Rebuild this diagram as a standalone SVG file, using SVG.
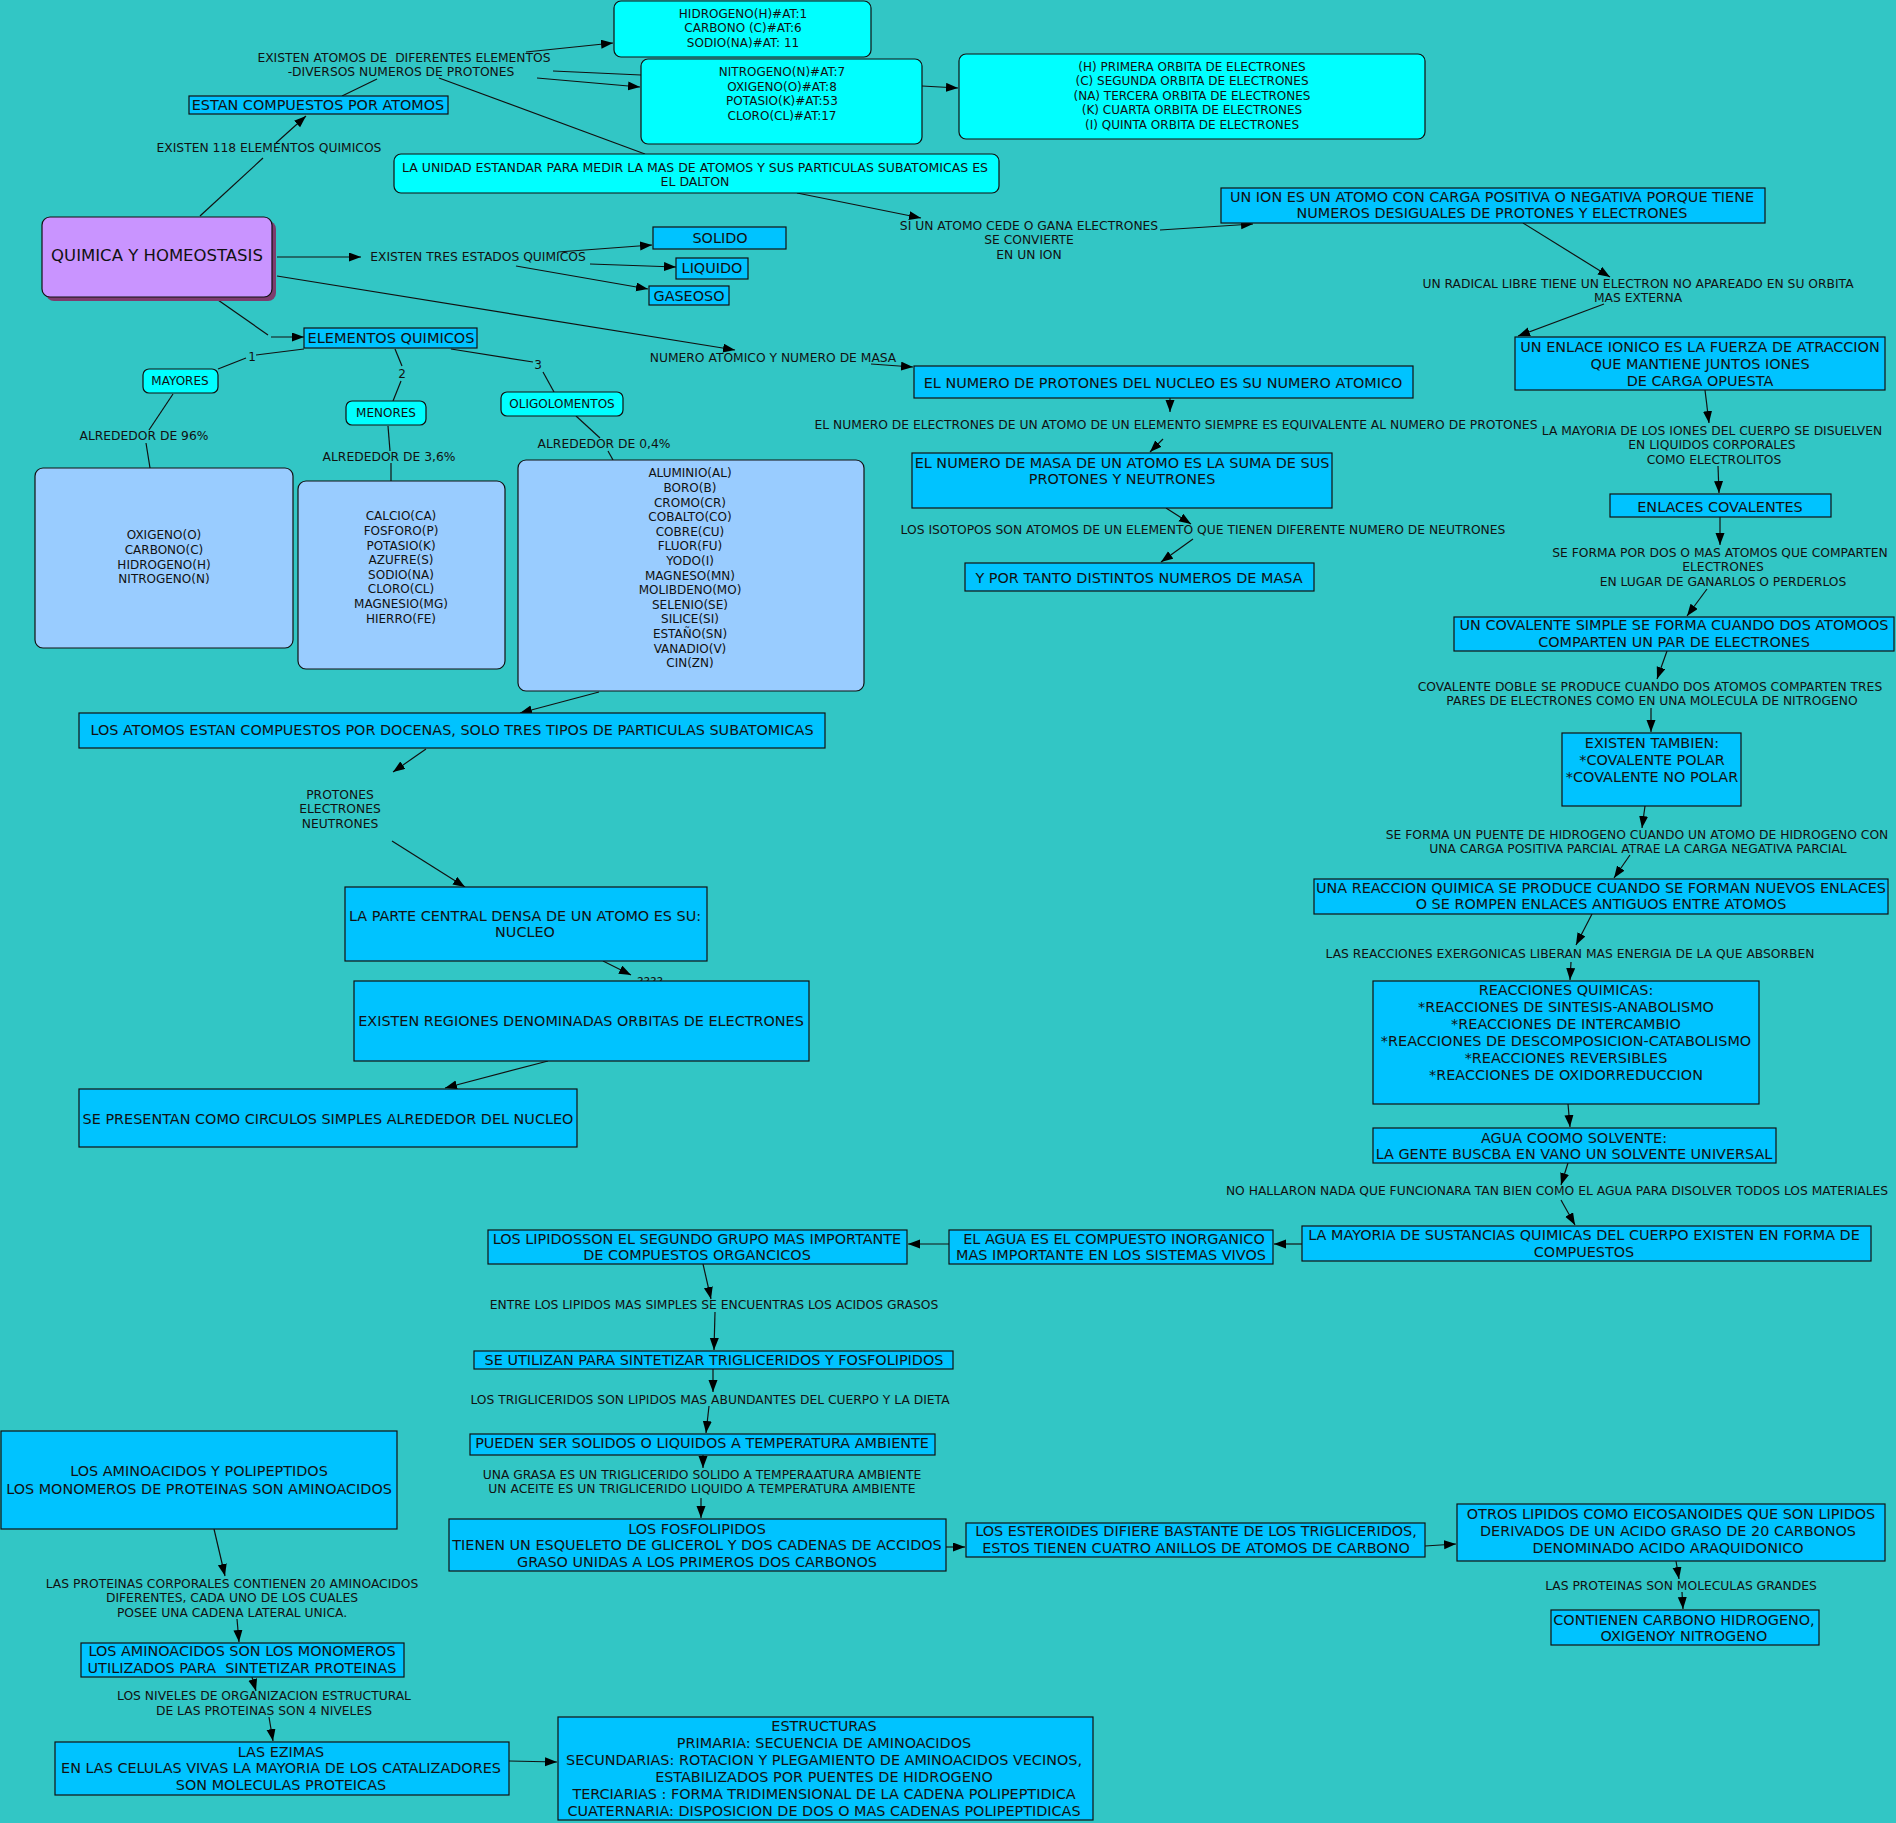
<svg xmlns="http://www.w3.org/2000/svg" width="1896" height="1823" viewBox="0 0 1896 1823">
<style>
text{font-family:"DejaVu Sans",Verdana,sans-serif;fill:#111;text-anchor:middle}
.t{font-size:14.4px}
.s{font-size:12px}
.k{font-size:12.3px}
.b{fill:#00C3FF;stroke:#111;stroke-width:1.2}
.c{fill:#00FFFF;stroke:#111;stroke-width:1.2}
.l{fill:#99CCFF;stroke:#111;stroke-width:1.2}
#edges line{stroke:#111;stroke-width:1.2}
#edges line.a{marker-end:url(#ah)}
</style>
<defs>
<marker id="ah" markerUnits="userSpaceOnUse" markerWidth="12" markerHeight="10" refX="12" refY="4.5" orient="auto"><path d="M0,0 L12,4.5 L0,9 z" fill="#000"/></marker>
</defs>
<rect x="0" y="0" width="1896" height="1823" fill="#32C6C5"/>

<g id="labels">
<text class="k" x="404" y="62" xml:space="preserve">EXISTEN ATOMOS DE  DIFERENTES ELEMENTOS</text>
<text class="k" x="401" y="76">-DIVERSOS NUMEROS DE PROTONES</text>
<text class="k" x="269" y="152">EXISTEN 118 ELEMENTOS QUIMICOS</text>
<text class="k" x="478" y="261">EXISTEN TRES ESTADOS QUIMICOS</text>
<text class="k" x="773" y="362">NUMERO ATOMICO Y NUMERO DE MASA</text>
<text class="k" x="1029" y="230">SI UN ATOMO CEDE O GANA ELECTRONES</text>
<text class="k" x="1029" y="244">SE CONVIERTE</text>
<text class="k" x="1029" y="259">EN UN ION</text>
<text class="k" x="1638" y="288">UN RADICAL LIBRE TIENE UN ELECTRON NO APAREADO EN SU ORBITA</text>
<text class="k" x="1638" y="302">MAS EXTERNA</text>
<text class="k" x="1176" y="429">EL NUMERO DE ELECTRONES DE UN ATOMO DE UN ELEMENTO SIEMPRE ES EQUIVALENTE AL NUMERO DE PROTONES</text>
<text class="k" x="1712" y="435">LA MAYORIA DE LOS IONES DEL CUERPO SE DISUELVEN</text>
<text class="k" x="1712" y="449">EN LIQUIDOS CORPORALES</text>
<text class="k" x="1714" y="464">COMO ELECTROLITOS</text>
<text class="k" x="1203" y="534">LOS ISOTOPOS SON ATOMOS DE UN ELEMENTO QUE TIENEN DIFERENTE NUMERO DE NEUTRONES</text>
<text class="k" x="1720" y="557">SE FORMA POR DOS O MAS ATOMOS QUE COMPARTEN</text>
<text class="k" x="1723" y="571">ELECTRONES</text>
<text class="k" x="1723" y="586">EN LUGAR DE GANARLOS O PERDERLOS</text>
<text class="k" x="1650" y="691">COVALENTE DOBLE SE PRODUCE CUANDO DOS ATOMOS COMPARTEN TRES</text>
<text class="k" x="1652" y="705">PARES DE ELECTRONES COMO EN UNA MOLECULA DE NITROGENO</text>
<text class="k" x="1637" y="839">SE FORMA UN PUENTE DE HIDROGENO CUANDO UN ATOMO DE HIDROGENO CON</text>
<text class="k" x="1638" y="853">UNA CARGA POSITIVA PARCIAL ATRAE LA CARGA NEGATIVA PARCIAL</text>
<text class="k" x="1570" y="958">LAS REACCIONES EXERGONICAS LIBERAN MAS ENERGIA DE LA QUE ABSORBEN</text>
<text class="k" x="1557" y="1195">NO HALLARON NADA QUE FUNCIONARA TAN BIEN COMO EL AGUA PARA DISOLVER TODOS LOS MATERIALES</text>
<text class="k" x="144" y="440">ALREDEDOR DE 96%</text>
<text class="k" x="389" y="461">ALREDEDOR DE 3,6%</text>
<text class="k" x="604" y="448">ALREDEDOR DE 0,4%</text>
<text class="s" x="252" y="361">1</text>
<text class="s" x="402" y="378">2</text>
<text class="s" x="538" y="369">3</text>
<text class="k" x="340" y="799">PROTONES</text>
<text class="k" x="340" y="813">ELECTRONES</text>
<text class="k" x="340" y="828">NEUTRONES</text>
<text class="k" x="650" y="986">????</text>
<text class="k" x="714" y="1309">ENTRE LOS LIPIDOS MAS SIMPLES SE ENCUENTRAS LOS ACIDOS GRASOS</text>
<text class="k" x="710" y="1404">LOS TRIGLICERIDOS SON LIPIDOS MAS ABUNDANTES DEL CUERPO Y LA DIETA</text>
<text class="k" x="702" y="1479">UNA GRASA ES UN TRIGLICERIDO SOLIDO A TEMPERAATURA AMBIENTE</text>
<text class="k" x="702" y="1493">UN ACEITE ES UN TRIGLICERIDO LIQUIDO A TEMPERATURA AMBIENTE</text>
<text class="k" x="1681" y="1590">LAS PROTEINAS SON MOLECULAS GRANDES</text>
<text class="k" x="232" y="1588">LAS PROTEINAS CORPORALES CONTIENEN 20 AMINOACIDOS</text>
<text class="k" x="232" y="1602">DIFERENTES, CADA UNO DE LOS CUALES</text>
<text class="k" x="232" y="1617">POSEE UNA CADENA LATERAL UNICA.</text>
<text class="k" x="264" y="1700">LOS NIVELES DE ORGANIZACION ESTRUCTURAL</text>
<text class="k" x="264" y="1715">DE LAS PROTEINAS SON 4 NIVELES</text>
</g>

<g id="edges">
<line x1="342" y1="96" x2="377" y2="79"/>
<line x1="200" y1="216" x2="263" y2="158"/>
<line class="a" x1="276" y1="143" x2="306" y2="116"/>
<line x1="218" y1="300" x2="268" y2="335"/>
<line class="a" x1="271" y1="337" x2="304" y2="337"/>
<line class="a" x1="277" y1="257" x2="361" y2="257"/>
<line class="a" x1="277" y1="276" x2="735" y2="350"/>
<line class="a" x1="526" y1="52" x2="613" y2="43"/>
<line x1="553" y1="71" x2="641" y2="75"/>
<line class="a" x1="537" y1="78" x2="640" y2="87"/>
<line x1="439" y1="78" x2="645" y2="154"/>
<line class="a" x1="922" y1="86" x2="958" y2="88"/>
<line class="a" x1="558" y1="252" x2="652" y2="245"/>
<line class="a" x1="590" y1="264" x2="676" y2="267"/>
<line class="a" x1="516" y1="266" x2="648" y2="289"/>
<line class="a" x1="871" y1="364" x2="913" y2="367"/>
<line class="a" x1="1170" y1="398" x2="1170" y2="412"/>
<line class="a" x1="1163" y1="439" x2="1150" y2="452"/>
<line class="a" x1="1166" y1="508" x2="1191" y2="524"/>
<line class="a" x1="1193" y1="539" x2="1161" y2="562"/>
<line class="a" x1="797" y1="193" x2="921" y2="218"/>
<line class="a" x1="1160" y1="230" x2="1253" y2="224"/>
<line class="a" x1="1523" y1="223" x2="1610" y2="277"/>
<line class="a" x1="1604" y1="304" x2="1518" y2="336"/>
<line class="a" x1="1705" y1="390" x2="1709" y2="423"/>
<line class="a" x1="1718" y1="466" x2="1719" y2="493"/>
<line class="a" x1="1720" y1="517" x2="1720" y2="545"/>
<line class="a" x1="1707" y1="589" x2="1687" y2="616"/>
<line class="a" x1="1667" y1="651" x2="1657" y2="679"/>
<line class="a" x1="1651" y1="708" x2="1651" y2="732"/>
<line class="a" x1="1645" y1="806" x2="1642" y2="828"/>
<line class="a" x1="1630" y1="855" x2="1614" y2="878"/>
<line class="a" x1="1592" y1="914" x2="1576" y2="945"/>
<line class="a" x1="1571" y1="962" x2="1570" y2="980"/>
<line class="a" x1="1568" y1="1104" x2="1570" y2="1127"/>
<line class="a" x1="1568" y1="1163" x2="1561" y2="1185"/>
<line class="a" x1="1561" y1="1200" x2="1575" y2="1225"/>
<line class="a" x1="1302" y1="1244" x2="1274" y2="1244"/>
<line class="a" x1="949" y1="1244" x2="908" y2="1244"/>
<line class="a" x1="703" y1="1264" x2="711" y2="1299"/>
<line class="a" x1="715" y1="1312" x2="714" y2="1350"/>
<line class="a" x1="713" y1="1369" x2="713" y2="1392"/>
<line class="a" x1="709" y1="1406" x2="706" y2="1433"/>
<line class="a" x1="703" y1="1455" x2="703" y2="1468"/>
<line class="a" x1="701" y1="1498" x2="701" y2="1518"/>
<line class="a" x1="946" y1="1547" x2="965" y2="1547"/>
<line class="a" x1="1425" y1="1546" x2="1456" y2="1544"/>
<line class="a" x1="1676" y1="1561" x2="1679" y2="1579"/>
<line class="a" x1="1682" y1="1592" x2="1683" y2="1609"/>
<line class="a" x1="214" y1="1529" x2="225" y2="1576"/>
<line class="a" x1="237" y1="1619" x2="239" y2="1642"/>
<line class="a" x1="252" y1="1677" x2="256" y2="1691"/>
<line class="a" x1="269" y1="1717" x2="273" y2="1741"/>
<line class="a" x1="509" y1="1761" x2="557" y2="1762"/>
<line class="a" x1="599" y1="692" x2="520" y2="713"/>
<line class="a" x1="426" y1="749" x2="393" y2="772"/>
<line class="a" x1="392" y1="841" x2="465" y2="887"/>
<line class="a" x1="603" y1="961" x2="631" y2="975"/>
<line class="a" x1="548" y1="1061" x2="445" y2="1088"/>
<line x1="304" y1="349" x2="256" y2="355"/>
<line x1="246" y1="358" x2="218" y2="369"/>
<line x1="395" y1="349" x2="402" y2="366"/>
<line x1="401" y1="381" x2="393" y2="401"/>
<line x1="451" y1="349" x2="533" y2="362"/>
<line x1="543" y1="372" x2="554" y2="392"/>
<line x1="173" y1="394" x2="149" y2="430"/>
<line x1="146" y1="443" x2="150" y2="468"/>
<line x1="388" y1="426" x2="390" y2="451"/>
<line x1="391" y1="463" x2="391" y2="481"/>
<line x1="576" y1="416" x2="600" y2="438"/>
<line x1="608" y1="451" x2="613" y2="460"/>
</g>

<g id="n-quimica"><rect x="46" y="221" width="230" height="80" rx="8" fill="#7D3C6E"/><rect x="42" y="217" width="230" height="80" rx="8" fill="#C994FF" stroke="#111" stroke-width="1.2"/><text x="157" y="261" font-size="16.5">QUIMICA Y HOMEOSTASIS</text></g>
<g id="n-estan"><rect class="b" x="189" y="96" width="259" height="18"/><text class="t" x="318" y="110">ESTAN COMPUESTOS POR ATOMOS</text></g>
<g id="n-hidrogeno"><rect class="c" x="614" y="1" width="257" height="56" rx="7"/><text class="s" x="743"><tspan x="743" y="18.3">HIDROGENO(H)#AT:1</tspan><tspan x="743" y="32.3">CARBONO (C)#AT:6</tspan><tspan x="743" y="47.3">SODIO(NA)#AT: 11</tspan></text></g>
<g id="n-nitrogeno"><rect class="c" x="641" y="59" width="281" height="85" rx="7"/><text class="s"><tspan x="782" y="76.3">NITROGENO(N)#AT:7</tspan><tspan x="782" y="91">OXIGENO(O)#AT:8</tspan><tspan x="782" y="105.3">POTASIO(K)#AT:53</tspan><tspan x="782" y="120.3">CLORO(CL)#AT:17</tspan></text></g>
<g id="n-orbitas"><rect class="c" x="959" y="54" width="466" height="85" rx="7"/><text class="s"><tspan x="1192" y="71.3">(H) PRIMERA ORBITA DE ELECTRONES</tspan><tspan x="1192" y="85.3">(C) SEGUNDA ORBITA DE ELECTRONES</tspan><tspan x="1192" y="100.3">(NA) TERCERA ORBITA DE ELECTRONES</tspan><tspan x="1192" y="114.3">(K) CUARTA ORBITA DE ELECTRONES</tspan><tspan x="1192" y="129.3">(I) QUINTA ORBITA DE ELECTRONES</tspan></text></g>
<g id="n-unidad"><rect class="c" x="394" y="154" width="605" height="39" rx="7"/><text font-size="12.5"><tspan x="695" y="171.5">LA UNIDAD ESTANDAR PARA MEDIR LA MAS DE ATOMOS Y SUS PARTICULAS SUBATOMICAS ES</tspan><tspan x="695" y="185.5">EL DALTON</tspan></text></g>
<g id="n-solido"><rect class="b" x="653" y="227" width="133" height="22"/><text class="t" x="720" y="243">SOLIDO</text></g>
<g id="n-liquido"><rect class="b" x="676" y="258" width="72" height="21"/><text class="t" x="712" y="273">LIQUIDO</text></g>
<g id="n-gaseoso"><rect class="b" x="649" y="286" width="80" height="19"/><text class="t" x="689" y="301">GASEOSO</text></g>
<g id="n-elementos"><rect class="b" x="304" y="328" width="173" height="20"/><text x="391" y="343" font-size="14.5">ELEMENTOS QUIMICOS</text></g>
<g id="n-mayores"><rect class="c" x="143" y="369" width="75" height="24" rx="6"/><text class="s" x="180" y="385.3">MAYORES</text></g>
<g id="n-menores"><rect class="c" x="346" y="401" width="80" height="24" rx="6"/><text class="s" x="386" y="417.3">MENORES</text></g>
<g id="n-oligo"><rect class="c" x="501" y="392" width="122" height="24" rx="6"/><text class="s" x="562" y="408.3">OLIGOLOMENTOS</text></g>
<g id="n-mayores-lista"><rect class="l" x="35" y="468" width="258" height="180" rx="8"/><text class="s"><tspan x="164" y="539.3">OXIGENO(O)</tspan><tspan x="164" y="553.9">CARBONO(C)</tspan><tspan x="164" y="568.5">HIDROGENO(H)</tspan><tspan x="164" y="583.1">NITROGENO(N)</tspan></text></g>
<g id="n-menores-lista"><rect class="l" x="298" y="481" width="207" height="188" rx="8"/><text class="s"><tspan x="401" y="520.3">CALCIO(CA)</tspan><tspan x="401" y="534.9">FOSFORO(P)</tspan><tspan x="401" y="549.5">POTASIO(K)</tspan><tspan x="401" y="564.1">AZUFRE(S)</tspan><tspan x="401" y="578.7">SODIO(NA)</tspan><tspan x="401" y="593.3">CLORO(CL)</tspan><tspan x="401" y="607.9">MAGNESIO(MG)</tspan><tspan x="401" y="622.5">HIERRO(FE)</tspan></text></g>
<g id="n-oligo-lista"><rect class="l" x="518" y="460" width="346" height="231" rx="8"/><text class="s"><tspan x="690" y="477.3">ALUMINIO(AL)</tspan><tspan x="690" y="491.9">BORO(B)</tspan><tspan x="690" y="506.5">CROMO(CR)</tspan><tspan x="690" y="521.1">COBALTO(CO)</tspan><tspan x="690" y="535.7">COBRE(CU)</tspan><tspan x="690" y="550.3">FLUOR(FU)</tspan><tspan x="690" y="564.9">YODO(I)</tspan><tspan x="690" y="579.5">MAGNESO(MN)</tspan><tspan x="690" y="594.1">MOLIBDENO(MO)</tspan><tspan x="690" y="608.7">SELENIO(SE)</tspan><tspan x="690" y="623.3">SILICE(SI)</tspan><tspan x="690" y="637.9">ESTAÑO(SN)</tspan><tspan x="690" y="652.5">VANADIO(V)</tspan><tspan x="690" y="667.1">CIN(ZN)</tspan></text></g>
<g id="n-ion"><rect class="b" x="1221" y="188" width="544" height="35"/><text class="t"><tspan x="1492" y="202">UN ION ES UN ATOMO CON CARGA POSITIVA O NEGATIVA PORQUE TIENE</tspan><tspan x="1492" y="218">NUMEROS DESIGUALES DE PROTONES Y ELECTRONES</tspan></text></g>
<g id="n-protones"><rect class="b" x="914" y="366" width="499" height="32"/><text class="t" x="1163" y="388">EL NUMERO DE PROTONES DEL NUCLEO ES SU NUMERO ATOMICO</text></g>
<g id="n-masa"><rect class="b" x="912" y="453" width="420" height="55"/><text class="t"><tspan x="1122" y="468">EL NUMERO DE MASA DE UN ATOMO ES LA SUMA DE SUS</tspan><tspan x="1122" y="484">PROTONES Y NEUTRONES</tspan></text></g>
<g id="n-portanto"><rect class="b" x="965" y="563" width="349" height="28"/><text class="t" x="1139" y="583">Y POR TANTO DISTINTOS NUMEROS DE MASA</text></g>
<g id="n-ionico"><rect class="b" x="1515" y="337" width="370" height="53"/><text class="t"><tspan x="1700" y="352">UN ENLACE IONICO ES LA FUERZA DE ATRACCION</tspan><tspan x="1700" y="369">QUE MANTIENE JUNTOS IONES</tspan><tspan x="1700" y="386">DE CARGA OPUESTA</tspan></text></g>
<g id="n-covalentes"><rect class="b" x="1610" y="494" width="221" height="23"/><text class="t" x="1720" y="512">ENLACES COVALENTES</text></g>
<g id="n-simple"><rect class="b" x="1454" y="617" width="440" height="34"/><text class="t"><tspan x="1674" y="630">UN COVALENTE SIMPLE SE FORMA CUANDO DOS ATOMOOS</tspan><tspan x="1674" y="647">COMPARTEN UN PAR DE ELECTRONES</tspan></text></g>
<g id="n-tambien"><rect class="b" x="1562" y="733" width="179" height="73"/><text class="t"><tspan x="1652" y="748">EXISTEN TAMBIEN:</tspan><tspan x="1652" y="765">*COVALENTE POLAR</tspan><tspan x="1652" y="782">*COVALENTE NO POLAR</tspan></text></g>
<g id="n-reaccion"><rect class="b" x="1314" y="879" width="574" height="35"/><text class="t"><tspan x="1601" y="893">UNA REACCION QUIMICA SE PRODUCE CUANDO SE FORMAN NUEVOS ENLACES</tspan><tspan x="1601" y="909">O SE ROMPEN ENLACES ANTIGUOS ENTRE ATOMOS</tspan></text></g>
<g id="n-reacciones"><rect class="b" x="1373" y="981" width="386" height="123"/><text class="t"><tspan x="1566" y="995">REACCIONES QUIMICAS:</tspan><tspan x="1566" y="1012">*REACCIONES DE SINTESIS-ANABOLISMO</tspan><tspan x="1566" y="1029">*REACCIONES DE INTERCAMBIO</tspan><tspan x="1566" y="1046">*REACCIONES DE DESCOMPOSICION-CATABOLISMO</tspan><tspan x="1566" y="1063">*REACCIONES REVERSIBLES</tspan><tspan x="1566" y="1080">*REACCIONES DE OXIDORREDUCCION</tspan></text></g>
<g id="n-agua-solvente"><rect class="b" x="1373" y="1128" width="403" height="35"/><text class="t"><tspan x="1574" y="1143">AGUA COOMO SOLVENTE:</tspan><tspan x="1574" y="1159">LA GENTE BUSCBA EN VANO UN SOLVENTE UNIVERSAL</tspan></text></g>
<g id="n-sustancias"><rect class="b" x="1302" y="1226" width="569" height="35"/><text class="t"><tspan x="1584" y="1240">LA MAYORIA DE SUSTANCIAS QUIMICAS DEL CUERPO EXISTEN EN FORMA DE</tspan><tspan x="1584" y="1257">COMPUESTOS</tspan></text></g>
<g id="n-agua"><rect class="b" x="949" y="1230" width="324" height="34"/><text class="t"><tspan x="1114" y="1244">EL AGUA ES EL COMPUESTO INORGANICO</tspan><tspan x="1111" y="1260">MAS IMPORTANTE EN LOS SISTEMAS VIVOS</tspan></text></g>
<g id="n-lipidos"><rect class="b" x="488" y="1230" width="419" height="34"/><text class="t"><tspan x="697" y="1244">LOS LIPIDOSSON EL SEGUNDO GRUPO MAS IMPORTANTE</tspan><tspan x="697" y="1260">DE COMPUESTOS ORGANCICOS</tspan></text></g>
<g id="n-atomos"><rect class="b" x="79" y="713" width="746" height="35"/><text class="t" x="452" y="735">LOS ATOMOS ESTAN COMPUESTOS POR DOCENAS, SOLO TRES TIPOS DE PARTICULAS SUBATOMICAS</text></g>
<g id="n-nucleo"><rect class="b" x="345" y="887" width="362" height="74"/><text class="t"><tspan x="525" y="921">LA PARTE CENTRAL DENSA DE UN ATOMO ES SU:</tspan><tspan x="525" y="937">NUCLEO</tspan></text></g>
<g id="n-regiones"><rect class="b" x="354" y="981" width="455" height="80"/><text class="t" x="581" y="1026">EXISTEN REGIONES DENOMINADAS ORBITAS DE ELECTRONES</text></g>
<g id="n-circulos"><rect class="b" x="79" y="1089" width="498" height="58"/><text class="t" x="328" y="1124">SE PRESENTAN COMO CIRCULOS SIMPLES ALREDEDOR DEL NUCLEO</text></g>
<g id="n-utilizan"><rect class="b" x="474" y="1351" width="479" height="18"/><text class="t" x="714" y="1365">SE UTILIZAN PARA SINTETIZAR TRIGLICERIDOS Y FOSFOLIPIDOS</text></g>
<g id="n-pueden"><rect class="b" x="470" y="1434" width="465" height="21"/><text class="t" x="702" y="1448">PUEDEN SER SOLIDOS O LIQUIDOS A TEMPERATURA AMBIENTE</text></g>
<g id="n-fosfolipidos"><rect class="b" x="449" y="1519" width="497" height="52"/><text class="t"><tspan x="697" y="1534">LOS FOSFOLIPIDOS</tspan><tspan x="697" y="1550">TIENEN UN ESQUELETO DE GLICEROL Y DOS CADENAS DE ACCIDOS</tspan><tspan x="697" y="1567">GRASO UNIDAS A LOS PRIMEROS DOS CARBONOS</tspan></text></g>
<g id="n-esteroides"><rect class="b" x="966" y="1523" width="459" height="34"/><text class="t"><tspan x="1196" y="1536">LOS ESTEROIDES DIFIERE BASTANTE DE LOS TRIGLICERIDOS,</tspan><tspan x="1196" y="1553">ESTOS TIENEN CUATRO ANILLOS DE ATOMOS DE CARBONO</tspan></text></g>
<g id="n-otros"><rect class="b" x="1457" y="1504" width="428" height="57"/><text class="t"><tspan x="1671" y="1519">OTROS LIPIDOS COMO EICOSANOIDES QUE SON LIPIDOS</tspan><tspan x="1668" y="1536">DERIVADOS DE UN ACIDO GRASO DE 20 CARBONOS</tspan><tspan x="1668" y="1553">DENOMINADO ACIDO ARAQUIDONICO</tspan></text></g>
<g id="n-contienen"><rect class="b" x="1551" y="1610" width="268" height="35"/><text class="t"><tspan x="1684" y="1625">CONTIENEN CARBONO HIDROGENO,</tspan><tspan x="1684" y="1641">OXIGENOY NITROGENO</tspan></text></g>
<g id="n-aminoacidos"><rect class="b" x="1" y="1431" width="396" height="98"/><text class="t"><tspan x="199" y="1476">LOS AMINOACIDOS Y POLIPEPTIDOS</tspan><tspan x="199" y="1494">LOS MONOMEROS DE PROTEINAS SON AMINOACIDOS</tspan></text></g>
<g id="n-monomeros"><rect class="b" x="81" y="1643" width="323" height="34"/><text class="t" xml:space="preserve"><tspan x="242" y="1656">LOS AMINOACIDOS SON LOS MONOMEROS</tspan><tspan x="242" y="1673">UTILIZADOS PARA  SINTETIZAR PROTEINAS</tspan></text></g>
<g id="n-ezimas"><rect class="b" x="55" y="1742" width="454" height="53"/><text class="t"><tspan x="281" y="1757">LAS EZIMAS</tspan><tspan x="281" y="1773">EN LAS CELULAS VIVAS LA MAYORIA DE LOS CATALIZADORES</tspan><tspan x="281" y="1790">SON MOLECULAS PROTEICAS</tspan></text></g>
<g id="n-estructuras"><rect class="b" x="558" y="1717" width="535" height="103"/><text class="t"><tspan x="824" y="1731">ESTRUCTURAS</tspan><tspan x="824" y="1748">PRIMARIA: SECUENCIA DE AMINOACIDOS</tspan><tspan x="824" y="1765">SECUNDARIAS: ROTACION Y PLEGAMIENTO DE AMINOACIDOS VECINOS,</tspan><tspan x="824" y="1782">ESTABILIZADOS POR PUENTES DE HIDROGENO</tspan><tspan x="824" y="1799">TERCIARIAS : FORMA TRIDIMENSIONAL DE LA CADENA POLIPEPTIDICA</tspan><tspan x="824" y="1816">CUATERNARIA: DISPOSICION DE DOS O MAS CADENAS POLIPEPTIDICAS</tspan></text></g>
</svg>
